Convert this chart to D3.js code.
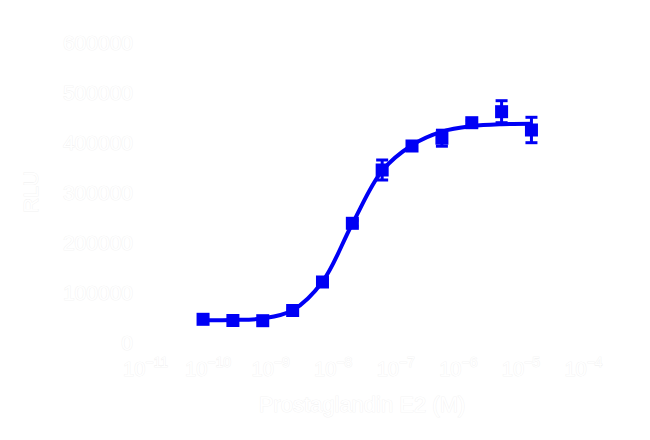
<!DOCTYPE html>
<html>
<head>
<meta charset="utf-8">
<script src="https://cdn.jsdelivr.net/npm/d3@7"></script>
<style>
  body { margin: 0; background: #fff; }
  .lbl { fill: #fff; stroke: #eeeeee; stroke-width: 0.6px; paint-order: stroke; }
</style>
</head>
<body>
<div id="app"></div>
<script>
// concentration (M), 3-fold dilutions
const concentrations = [8.47e-11, 2.54e-10, 7.62e-10, 2.29e-9, 6.86e-9, 2.06e-8, 6.17e-8, 1.85e-7, 5.56e-7, 1.67e-6, 5.0e-6, 1.5e-5]
const means = [44800, 42400, 42000, 62400, 119400, 236800, 343400, 391400, 407000, 438000, 460000, 423400]
const sds = [3000, 2500, 2500, 3000, 4000, 6000, 20000, 9000, 16000, 4000, 22000, 25400]
// fitted curve read at each concentration
const fitValues = [43000, 43500, 46500, 63000, 120000, 236000, 342000, 393000, 420000, 431000, 435000, 436000]
const yTicks = [0, 100000, 200000, 300000, 400000, 500000, 600000]
const xTickExps = [-11, -10, -9, -8, -7, -6, -5, -4]

const w = 650, h = 440
const blue = '#0000f5'
const font = '"Liberation Sans", Arial, sans-serif'

const svg = d3.select('#app').append('svg')
  .attr('width', w)
  .attr('height', h)

const xScale = d3.scaleLog()
  .domain([1e-11, 1e-4])
  .range([145, 583])

const yScale = d3.scaleLinear()
  .domain([0, 600000])
  .range([341.7, 41.7])

// y axis
const yAxis = d3.axisLeft(yScale)
  .tickValues(yTicks)
  .tickFormat(d => d)
  .tickSize(5)
  .tickPadding(2)

const gy = svg.append('g')
  .attr('transform', 'translate(140,0)')
  .call(yAxis)
gy.selectAll('path, line').attr('stroke', '#fff')
gy.selectAll('text')
  .attr('class', 'lbl')
  .style('font-family', font)
  .style('font-size', '21px')
  .attr('dy', '0.36em')

// x axis
const xAxis = d3.axisBottom(xScale)
  .tickValues(xTickExps.map(e => Math.pow(10, e)))
  .tickFormat('')
  .tickSize(5)

const gx = svg.append('g')
  .attr('transform', 'translate(0,346)')
  .call(xAxis)
gx.selectAll('path, line').attr('stroke', '#fff')
gx.selectAll('.tick').each(function(d, i) {
  const t = d3.select(this).append('text')
    .attr('class', 'lbl')
    .attr('y', 30)
    .attr('text-anchor', 'middle')
    .style('font-family', font)
    .style('font-size', '20px')
  t.append('tspan').text('10')
  t.append('tspan')
    .attr('dy', -9)
    .style('font-size', '14px')
    .text('\u2212' + Math.abs(xTickExps[i]))
})

// axis titles
svg.append('text')
  .attr('class', 'lbl')
  .attr('text-anchor', 'middle')
  .attr('x', 362)
  .attr('y', 412)
  .style('font-family', font)
  .style('font-size', '22px')
  .text('Prostaglandin E2 (M)')

svg.append('text')
  .attr('class', 'lbl')
  .attr('text-anchor', 'middle')
  .attr('transform', 'translate(38,192) rotate(-90)')
  .style('font-family', font)
  .style('font-size', '21px')
  .text('RLU')

// fitted curve
const line = d3.line()
  .x((d, i) => xScale(concentrations[i]))
  .y(d => yScale(d))
  .curve(d3.curveCatmullRom.alpha(0.5))

svg.append('path')
  .datum(fitValues)
  .attr('d', line)
  .attr('fill', 'none')
  .attr('stroke', blue)
  .attr('stroke-width', 4)

// error bars
const eb = svg.append('g')
  .attr('stroke', blue)
  .attr('stroke-width', 3)
  .selectAll('g')
  .data(means)
  .enter()
  .append('g')

eb.append('line')
  .attr('x1', (d, i) => xScale(concentrations[i]))
  .attr('x2', (d, i) => xScale(concentrations[i]))
  .attr('y1', (d, i) => yScale(d - sds[i]))
  .attr('y2', (d, i) => yScale(d + sds[i]))
eb.append('line')
  .attr('x1', (d, i) => xScale(concentrations[i]) - 6)
  .attr('x2', (d, i) => xScale(concentrations[i]) + 6)
  .attr('y1', (d, i) => yScale(d + sds[i]))
  .attr('y2', (d, i) => yScale(d + sds[i]))
eb.append('line')
  .attr('x1', (d, i) => xScale(concentrations[i]) - 6)
  .attr('x2', (d, i) => xScale(concentrations[i]) + 6)
  .attr('y1', (d, i) => yScale(d - sds[i]))
  .attr('y2', (d, i) => yScale(d - sds[i]))

// points
const s = 13
svg.selectAll('rect.pt')
  .data(means)
  .enter()
  .append('rect')
  .attr('class', 'pt')
  .attr('x', (d, i) => xScale(concentrations[i]) - s / 2)
  .attr('y', d => yScale(d) - s / 2)
  .attr('width', s)
  .attr('height', s)
  .attr('fill', blue)
</script>
</body>
</html>
